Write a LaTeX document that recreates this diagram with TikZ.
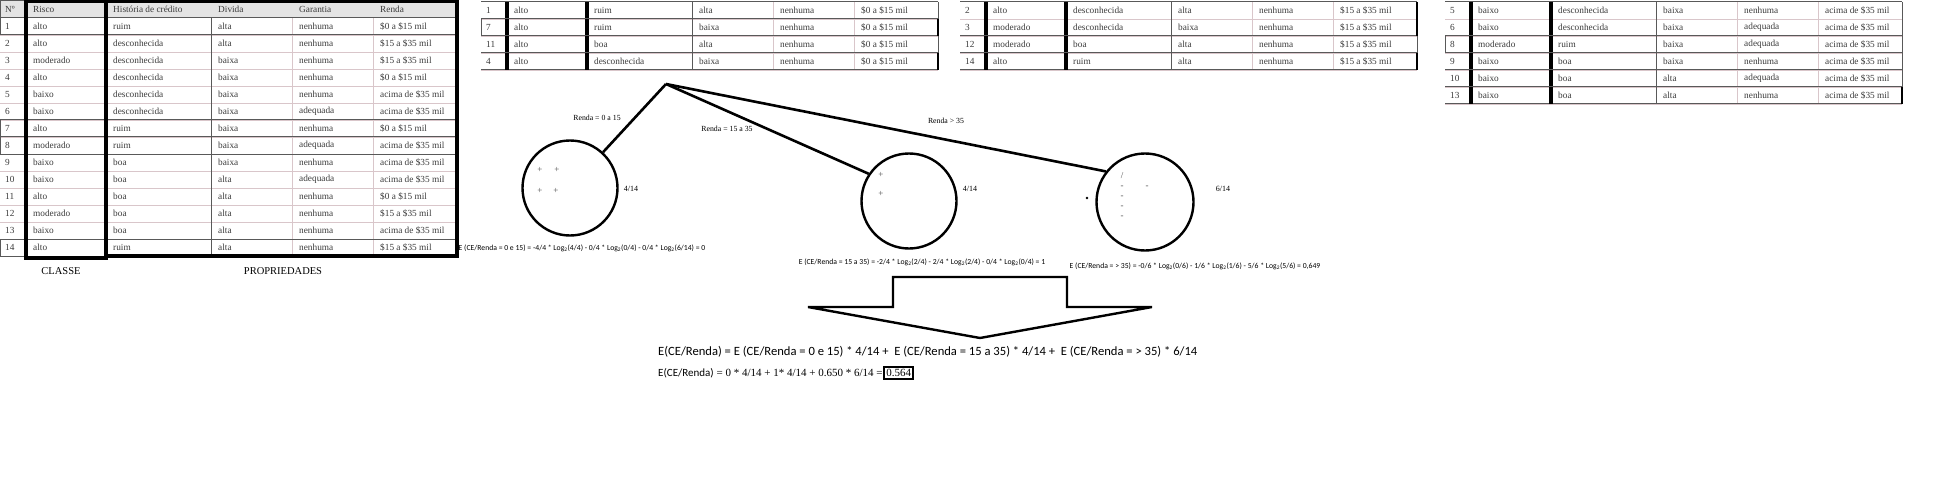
\documentclass[tikz,border=0pt]{standalone}
\usepackage{fontspec}
\setmainfont{Liberation Serif}
\newfontfamily\calibri{Carlito}
\usetikzlibrary{positioning}

\definecolor{rosa}{HTML}{D9C6CA}
\definecolor{cinza}{HTML}{595959}
\definecolor{fundo}{HTML}{E4E4E4}
\definecolor{texto}{HTML}{3A3A3A}

\tikzset{
  cel/.style={anchor=west, inner sep=0pt, text=texto, font=\fontsize{9.3}{10}\selectfont},
  fino/.style={draw=rosa, line width=0.7pt},
  escuro/.style={draw=cinza, line width=1pt},
  grosso/.style={draw=black, line width=3.5pt},
  ramo/.style={line width=2.6pt},
  no/.style={draw, circle, line width=2.4pt, minimum size=95pt, inner sep=0pt},
  rotulo/.style={font=\fontsize{7.8}{9}\selectfont},
  marca/.style={inner sep=0pt, text=black!70, font=\fontsize{9}{10}\selectfont},
  conta/.style={font=\calibri\fontsize{7.7}{8}\selectfont},
  seta/.style={line width=2.4pt, line join=miter},
  caixa/.style={draw, line width=1.8pt, inner sep=2.2pt, font=\fontsize{11}{12}\selectfont},
}

\begin{document}
\begin{tikzpicture}[x=1pt, y=-1pt]
    \useasboundingbox (0,0) rectangle (1956,492);

    % Tabela: prefixo, topo, base, linhas (numero/risco/historia/divida/garantia/renda)
    \def\tabela#1#2#3#4{%
        \foreach \va/\vb/\vc/\vd/\ve/\vf [count=\i] in {#4} {%
            \pgfmathsetmacro\yy{#2+17*\i-8.5}%
            \node[cel] (#1\i-n) at (5,\yy) {\va};%
            \node[cel] (#1\i-r) at (33,\yy) {\vb};%
            \node[cel] (#1\i-h) at (113,\yy) {\vc};%
            \node[cel] (#1\i-d) at (218,\yy) {\vd};%
            \node[cel] (#1\i-g) at (299,\yy) {\ve};%
            \node[cel] (#1\i-v) at (380,\yy) {\vf};%
            \draw[fino] (0,{#2+17*\i}) -- (457,{#2+17*\i});%
        }%
        \draw[fino] (292,#2) -- (292,#3) (373,#2) -- (373,#3);%
        \draw[escuro] (211,#2) -- (211,#3);%
        \draw[escuro] (0,#2) -- (457,#2) (0,#3) -- (457,#3) (457,#2) -- (457,#3);%
        \draw[grosso] (26,#2) -- (26,#3) (106,#2) -- (106,#3);%
    }

    % -- Tabela completa --
    \fill[fundo] (0,0) rectangle (457,18);
    \node[cel] (cab-n) at (5,9) {Nº};
    \node[cel] (cab-r) at (33,9) {Risco};
    \node[cel] (cab-h) at (113,9) {História de crédito};
    \node[cel] (cab-d) at (218,9) {Divida};
    \node[cel] (cab-g) at (299,9) {Garantia};
    \node[cel] (cab-v) at (380,9) {Renda};
    \tabela{p}{18}{256}{1/alto/ruim/alta/nenhuma/{\$0 a \$15 mil},
        2/alto/desconhecida/alta/nenhuma/{\$15 a \$35 mil},
        3/moderado/desconhecida/baixa/nenhuma/{\$15 a \$35 mil},
        4/alto/desconhecida/baixa/nenhuma/{\$0 a \$15 mil},
        5/baixo/desconhecida/baixa/nenhuma/{acima de \$35 mil},
        6/baixo/desconhecida/baixa/adequada/{acima de \$35 mil},
        7/alto/ruim/baixa/nenhuma/{\$0 a \$15 mil},
        8/moderado/ruim/baixa/adequada/{acima de \$35 mil},
        9/baixo/boa/baixa/nenhuma/{acima de \$35 mil},
        10/baixo/boa/alta/adequada/{acima de \$35 mil},
        11/alto/boa/alta/nenhuma/{\$0 a \$15 mil},
        12/moderado/boa/alta/nenhuma/{\$15 a \$35 mil},
        13/baixo/boa/alta/nenhuma/{acima de \$35 mil},
        14/alto/ruim/alta/nenhuma/{\$15 a \$35 mil}}
    \foreach \yy in {35,120,137,154,239} \draw[escuro] (0,\yy) -- (457,\yy);
    \draw[escuro] (0,0.5) -- (0,35) (0,120) -- (0,154) (0,239) -- (0,256) (0,0.5) -- (26,0.5);
    \draw[grosso] (26,1.5) rectangle (106,258);
    \draw[grosso] (106,1.5) -- (457,1.5) -- (457,256) -- (106,256);
    \node[font=\fontsize{10.5}{11}\selectfont] (classe) at (61,271) {CLASSE};
    \node[font=\fontsize{10.5}{11}\selectfont] (prop) at (283,271) {PROPRIEDADES};

    % -- Renda = 0 a 15 --
    \begin{scope}[shift={(481,0)}]
        \tabela{a}{2}{70}{1/alto/ruim/alta/nenhuma/{\$0 a \$15 mil},
            7/alto/ruim/baixa/nenhuma/{\$0 a \$15 mil},
            11/alto/boa/alta/nenhuma/{\$0 a \$15 mil},
            4/alto/desconhecida/baixa/nenhuma/{\$0 a \$15 mil}}
        \foreach \yy in {19,36,53} \draw[escuro] (0,\yy) -- (457,\yy);
        \draw[escuro] (0,19) -- (0,36);
        \draw[grosso, line width=2.5pt] (457,19) -- (457,36) (457,53) -- (457,70);
    \end{scope}

    % -- Renda = 15 a 35 --
    \begin{scope}[shift={(960,0)}]
        \tabela{b}{2}{70}{2/alto/desconhecida/alta/nenhuma/{\$15 a \$35 mil},
            3/moderado/desconhecida/baixa/nenhuma/{\$15 a \$35 mil},
            12/moderado/boa/alta/nenhuma/{\$15 a \$35 mil},
            14/alto/ruim/alta/nenhuma/{\$15 a \$35 mil}}
        \foreach \yy in {36,53} \draw[escuro] (0,\yy) -- (457,\yy);
        \draw[grosso, line width=2.5pt] (457,2) -- (457,36) (457,53) -- (457,70);
    \end{scope}

    % -- Renda > 35 --
    \begin{scope}[shift={(1445,0)}]
        \tabela{c}{2}{104}{5/baixo/desconhecida/baixa/nenhuma/{acima de \$35 mil},
            6/baixo/desconhecida/baixa/adequada/{acima de \$35 mil},
            8/moderado/ruim/baixa/adequada/{acima de \$35 mil},
            9/baixo/boa/baixa/nenhuma/{acima de \$35 mil},
            10/baixo/boa/alta/adequada/{acima de \$35 mil},
            13/baixo/boa/alta/nenhuma/{acima de \$35 mil}}
        \foreach \yy in {36,53,70,87} \draw[escuro] (0,\yy) -- (457,\yy);
        \draw[escuro] (0,36) -- (0,53);
        \draw[grosso, line width=2.5pt] (457,87) -- (457,104);
    \end{scope}

    % -- Arvore --
    \coordinate (raiz) at (666,84);
    \node[no] (c1) at (570,188) {};
    \node[no] (c2) at (909,201) {};
    \node[no, minimum size=97pt] (c3) at (1145,202) {};
    \draw[ramo] (raiz) -- (c1);
    \draw[ramo] (raiz) -- (c2.146);
    \draw[ramo] (raiz) -- (c3.142);

    \node[rotulo] (r1) at (597,118) {Renda = 0 a 15};
    \node[rotulo] (r2) at (727,129) {Renda = 15 a 35};
    \node[rotulo] (r3) at (946,121) {Renda > 35};

    \node[rotulo, font=\fontsize{8}{9}\selectfont] (q1) at (631,189) {4/14};
    \node[rotulo, font=\fontsize{8}{9}\selectfont] (q2) at (970,189) {4/14};
    \node[rotulo, font=\fontsize{8}{9}\selectfont] (q3) at (1223,189) {6/14};

    % marcas dentro dos nos
    \foreach \x/\y [count=\k] in {540/170, 557/170, 540/191, 556/191}
        \node[marca] (m1-\k) at (\x,\y) {+};
    \foreach \x/\y/\s [count=\k] in {881/175/+, 905/175//, 881/194/+, 905/194//}
        \node[marca] (m2-\k) at (\x,\y) {\s};
    \node[marca] (m3-0) at (1122,176) {/};
    \foreach \y [count=\k] in {187,197,207,217}
        \node[marca] (m3-\k) at (1122,\y) {-};
    \node[marca] (m3-5) at (1147,187) {-};
    \node[circle, fill, inner sep=0pt, minimum size=2.6pt] (ponto) at (1087,198) {};

    % entropias
    \node[conta] (e1) at (582,248) {E (CE/Renda = 0 e 15) = -4/4 * Log\textsubscript{2}(4/4) - 0/4 * Log\textsubscript{2}(0/4) - 0/4 * Log\textsubscript{2}(6/14) = 0};
    \node[conta] (e2) at (922,262) {E (CE/Renda = 15 a 35) = -2/4 * Log\textsubscript{2}(2/4) - 2/4 * Log\textsubscript{2}(2/4) - 0/4 * Log\textsubscript{2}(0/4) = 1};
    \node[conta] (e3) at (1195,266) {E (CE/Renda = > 35) = -0/6 * Log\textsubscript{2}(0/6) - 1/6 * Log\textsubscript{2}(1/6) - 5/6 * Log\textsubscript{2}(5/6) = 0,649};

    % -- Seta e resultado --
    \draw[seta] (893,277) -- (1067,277) -- (1067,307) -- (1152,307) -- (980,338) -- (808,307) -- (893,307) -- cycle;

    \node[anchor=west, inner sep=0pt, font=\calibri\fontsize{12.6}{13}\selectfont] (f1) at (658,352)
        {E(CE/Renda) = E (CE/Renda = 0 e 15) * 4/14 +\ \ E (CE/Renda = 15 a 35) * 4/14 +\ \ E (CE/Renda = > 35) * 6/14};
    \node[anchor=west, inner sep=0pt, font=\fontsize{11}{12}\selectfont] (f2) at (658,373)
        {{\calibri E(CE/Renda)} = 0 * 4/14 + 1* 4/14 + 0.650 * 6/14 =};
    \node[caixa, right=0.5pt of f2] (res) {0.564};
\end{tikzpicture}
\end{document}
